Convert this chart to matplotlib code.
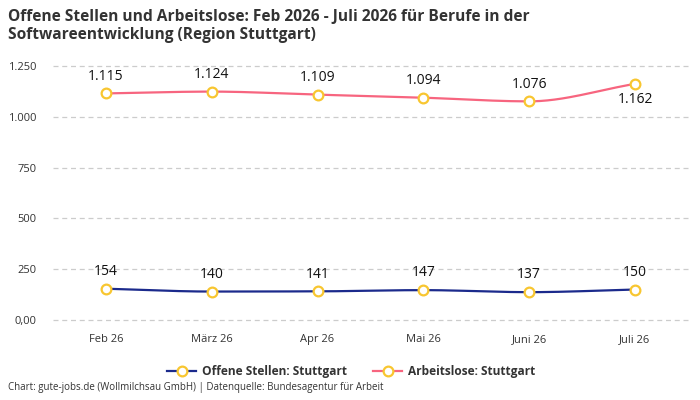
import matplotlib
matplotlib.use("Agg")
import matplotlib.pyplot as plt
import numpy as np
from matplotlib.lines import Line2D

plt.rcParams['font.family'] = ['Open Sans', 'DejaVu Sans']

categories = ["Feb 26", "März 26", "Apr 26", "Mai 26", "Juni 26", "Juli 26"]
offene = [154, 140, 141, 147, 137, 150]
arbeitslose = [1115, 1124, 1109, 1094, 1076, 1162]
yticks = [0, 250, 500, 750, 1000, 1250]
ytick_labels = ["0,00", "250", "500", "750", "1.000", "1.250"]

def fmt(v):
    return f"{v:,}".replace(",", ".")

def monotone(x, y, n=30):
    x = np.asarray(x, float); y = np.asarray(y, float)
    h = np.diff(x); d = np.diff(y) / h
    m = np.zeros_like(y)
    m[0] = d[0]; m[-1] = d[-1]
    for i in range(1, len(y) - 1):
        if d[i-1] * d[i] <= 0:
            m[i] = 0
        else:
            m[i] = 3 * (h[i-1] + h[i]) / ((2*h[i] + h[i-1]) / d[i-1] + (h[i] + 2*h[i-1]) / d[i])
    xs, ys = [], []
    for i in range(len(x) - 1):
        t = np.linspace(0, 1, n)
        h00 = 2*t**3 - 3*t**2 + 1; h10 = t**3 - 2*t**2 + t
        h01 = -2*t**3 + 3*t**2; h11 = t**3 - t**2
        xs.append(x[i] + t*h[i])
        ys.append(h00*y[i] + h10*h[i]*m[i] + h01*y[i+1] + h11*h[i]*m[i+1])
    return np.concatenate(xs), np.concatenate(ys)

navy = "#1b2a8c"
pink = "#f7657f"
yellow = "#f8c630"

fig = plt.figure(figsize=(7, 4), dpi=100)
ax = fig.add_axes([0.0757, 0.2, 0.907, 0.635])
x = np.arange(len(categories))

for vals, col in [(offene, navy), (arbeitslose, pink)]:
    sx, sy = monotone(x, vals)
    ax.plot(sx, sy, color=col, lw=1.6, zorder=3, solid_capstyle='round')
    ax.plot(x, vals, 'o', ms=7, mfc='white', mec=yellow, mew=1.6, zorder=4, ls='none')

for i, v in enumerate(offene):
    ax.annotate(fmt(v), (i, v), xytext=(0, 7), textcoords='offset points',
                ha='center', va='bottom', fontsize=10, fontweight='medium', color='#111111')
for i, v in enumerate(arbeitslose):
    if i == len(arbeitslose) - 1:
        ax.annotate(fmt(v), (i, v), xytext=(0, -6), textcoords='offset points',
                    ha='center', va='top', fontsize=10, fontweight='medium', color='#111111')
    else:
        ax.annotate(fmt(v), (i, v), xytext=(0, 7), textcoords='offset points',
                    ha='center', va='bottom', fontsize=10, fontweight='medium', color='#111111')

ax.set_xlim(-0.5, len(categories) - 0.5)
ax.set_ylim(0, 1250)
ax.set_yticks(yticks)
ax.set_yticklabels(ytick_labels)
ax.set_xticks(x)
ax.set_xticklabels(categories)
ax.tick_params(axis='both', length=0, labelsize=8, colors='#333333')
ax.tick_params(axis='x', pad=10)
ax.tick_params(axis='y', pad=12)
for s in ax.spines.values():
    s.set_visible(False)
ax.yaxis.grid(True, color='#cccccc', ls=(0, (4, 3)), lw=0.9)
for gl in ax.get_ygridlines():
    gl.set_clip_on(False)
ax.set_axisbelow(True)
ax.patch.set_alpha(0)

fig.text(0.011, 0.978, "Offene Stellen und Arbeitslose: Feb 2026 - Juli 2026 für Berufe in der\nSoftwareentwicklung (Region Stuttgart)",
         ha='left', va='top', fontsize=11.2, fontweight='bold', color='#333333', linespacing=1.2)

handles = [
    Line2D([], [], color=navy, lw=1.6, marker='o', ms=7, mfc='white', mec=yellow, mew=1.6),
    Line2D([], [], color=pink, lw=1.6, marker='o', ms=7, mfc='white', mec=yellow, mew=1.6),
]
fig.legend(handles, ["Offene Stellen: Stuttgart", "Arbeitslose: Stuttgart"],
           loc='center', bbox_to_anchor=(0.502, 0.072), ncol=2, frameon=False,
           prop={'size': 8.6, 'weight': 'bold'}, labelcolor='#333333',
           handlelength=2.4, columnspacing=2.2, handletextpad=0.5)

fig.text(0.011, 0.017, "Chart: gute-jobs.de (Wollmilchsau GmbH) | Datenquelle: Bundesagentur für Arbeit",
         ha='left', va='bottom', fontsize=7, color='#333333')

fig.savefig("out.png", dpi=100)
